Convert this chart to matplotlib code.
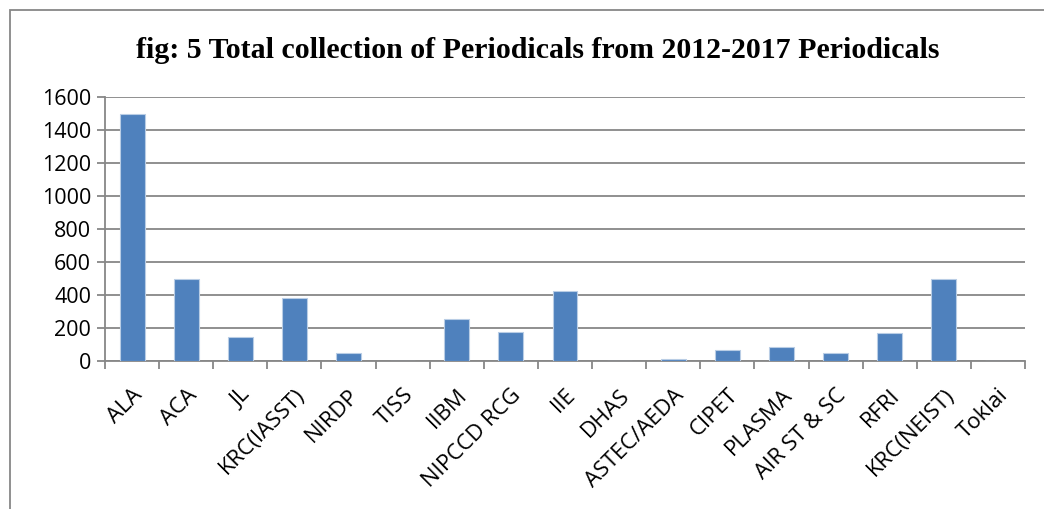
import matplotlib.pyplot as plt
import numpy as np
from matplotlib.patches import Rectangle

# data
libraries = ["ALA", "ACA", "JL", "KRC(IASST)", "NIRDP", "TISS", "IIBM",
             "NIPCCD RCG", "IIE", "DHAS", "ASTEC/AEDA", "CIPET", "PLASMA",
             "AIR ST & SC", "RFRI", "KRC(NEIST)", "Toklai"]
periodicals = [1500, 500, 145, 380, 50, 0, 255, 175, 425, 0, 10, 65, 85,
               50, 170, 495, 0]
yticks = [0, 200, 400, 600, 800, 1000, 1200, 1400, 1600]

fig = plt.figure(figsize=(10.44, 5.09), dpi=100)
W, H = 1044, 509
ax = fig.add_axes([105 / W, 1 - 361 / H, 920 / W, 264 / H])

x = np.arange(len(libraries))
ax.bar(x, periodicals, width=0.46, color="#4F81BD", edgecolor="#B9CDE5",
       linewidth=0.8, zorder=3)

ax.set_xlim(-0.5, len(libraries) - 0.5)
ax.set_ylim(0, 1600)
ax.set_yticks(yticks)
ax.set_yticklabels([str(v) for v in yticks], fontsize=15.5, family="Open Sans")
ax.yaxis.grid(True, color="#878787", linewidth=1.3, zorder=0)

ax.set_xticks(x)
ax.set_xticklabels(libraries, rotation=45, ha="right", rotation_mode="anchor",
                   fontsize=16, family="Open Sans")
ax.set_xticks(np.arange(len(libraries) + 1) - 0.5, minor=True)
ax.tick_params(axis="x", which="major", length=0, pad=17)
ax.tick_params(axis="x", which="minor", length=6, color="#878787", width=1.3)
ax.tick_params(axis="y", length=6, color="#878787", width=1.3, pad=4)

for s in ["top", "right"]:
    ax.spines[s].set_visible(False)
for s in ["left", "bottom"]:
    ax.spines[s].set_color("#878787")
    ax.spines[s].set_linewidth(1.3)

fig.text(538 / W, 1 - 51 / H,
         "fig: 5 Total collection of Periodicals from 2012-2017 Periodicals",
         ha="center", va="center", fontsize=21.5, fontweight="bold",
         family="Liberation Serif")

fig.patches.append(Rectangle((10 / W, -0.1), 1.2, 1 - 10 / H + 0.1,
                             transform=fig.transFigure, fill=False,
                             edgecolor="#878787", linewidth=1.3))

fig.savefig("out.png", dpi=100)
